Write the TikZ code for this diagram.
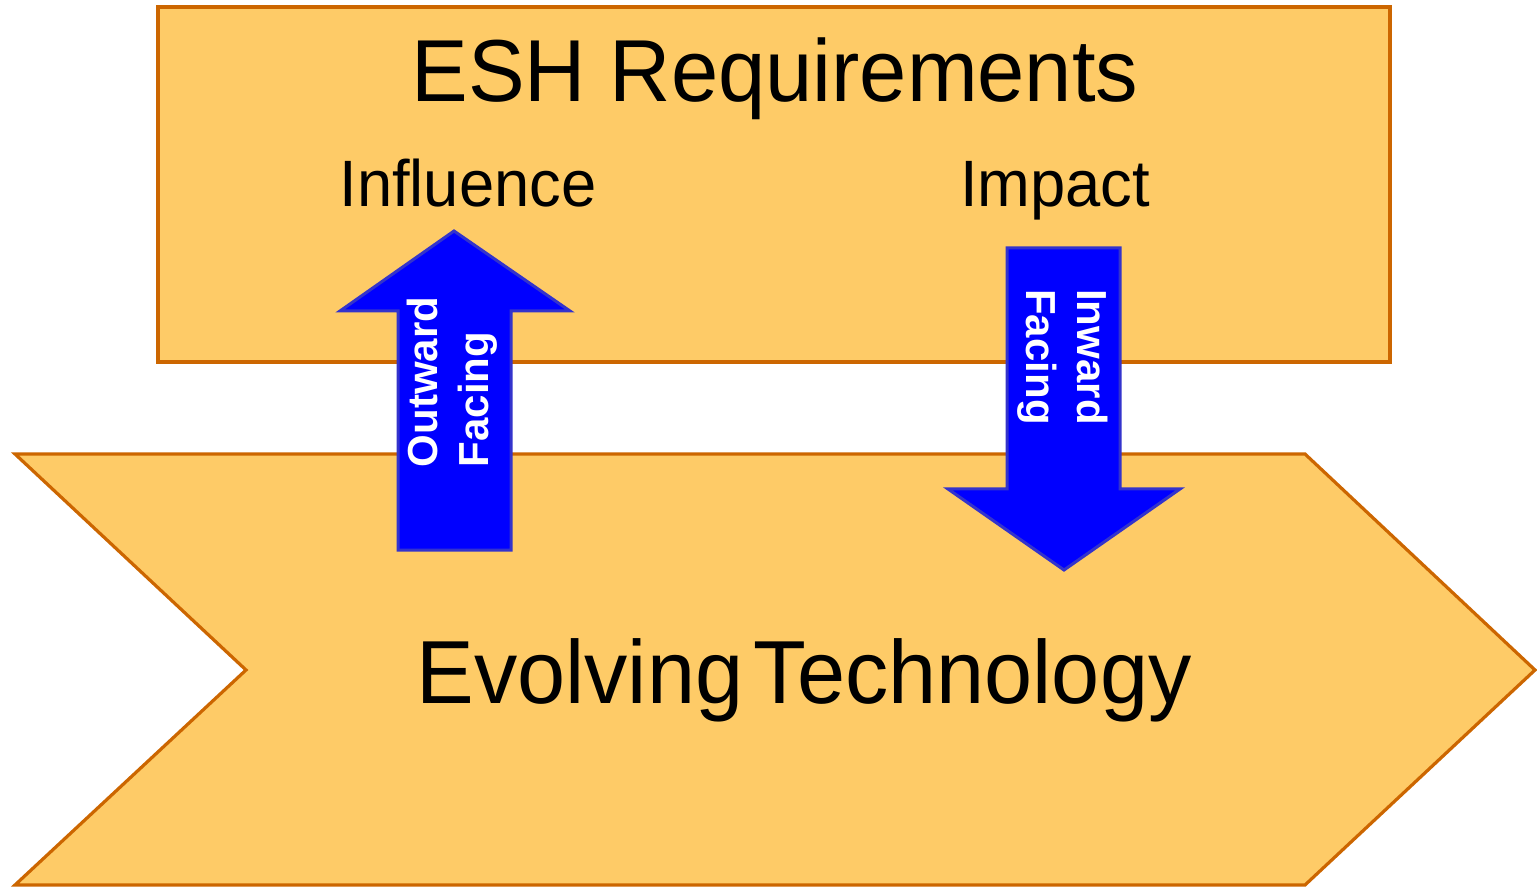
\documentclass[tikz,border=0pt]{standalone}
\usepackage{fontspec}
\setmainfont{Liberation Sans}
\newfontfamily\narrowsans[FakeStretch=0.965]{Liberation Sans}
\begin{document}
\begin{tikzpicture}[x=0.5pt,y=-0.5pt,
  panel/.style={fill=panelfill,draw=paneledge,line width=1.6pt,line join=miter},
  blockarrow/.style={fill=arrowblue,draw=arrowedge,line width=1.5pt,line join=miter},
  bigtitle/.style={font=\narrowsans\fontsize{44}{52}\selectfont,anchor=base,inner sep=0pt},
  subtitle/.style={font=\narrowsans\fontsize{32.8}{39}\selectfont,anchor=base,inner sep=0pt},
  arrowtext/.style={font=\bfseries\fontsize{21}{25.5}\selectfont,text=white,align=left,inner sep=0pt}
]
\definecolor{panelfill}{HTML}{FECB67}
\definecolor{paneledge}{HTML}{CC6600}
\definecolor{arrowblue}{HTML}{0000FF}
\definecolor{arrowedge}{HTML}{3333CC}
\useasboundingbox (0,0) rectangle (1537,887);

% upper panel: requirements
\draw[panel] (158,7) rectangle (1390,362);
% lower chevron: technology
\draw[panel] (15,454) -- (1305,454) -- (1535,670) -- (1305,885) -- (15,885) -- (246,670) -- cycle;

\node[bigtitle] (esh) at (775,102) {ESH Requirements};
\node[subtitle] (influence) at (468,207) {Influence};
\node[subtitle] (impact) at (1055,207) {Impact};
\node[bigtitle,font=\narrowsans\fontsize{44.8}{52}\selectfont] (tech) at (804,703) {Evolving \kern-0.15em Technology};

% upward block arrow
\draw[blockarrow] (398,550) -- (398,311) -- (340,311) -- (454,231) -- (570,311) -- (511,311) -- (511,550) -- cycle;
\node[arrowtext,rotate=90] (outward) at (452,382) {Outward\\Facing};

% downward block arrow
\draw[blockarrow] (1007,248) -- (1120,248) -- (1120,489) -- (1180,489) -- (1064,570) -- (948,489) -- (1007,489) -- cycle;
\node[arrowtext,rotate=-90] (inward) at (1063,357) {Inward\\Facing};
\end{tikzpicture}
\end{document}
